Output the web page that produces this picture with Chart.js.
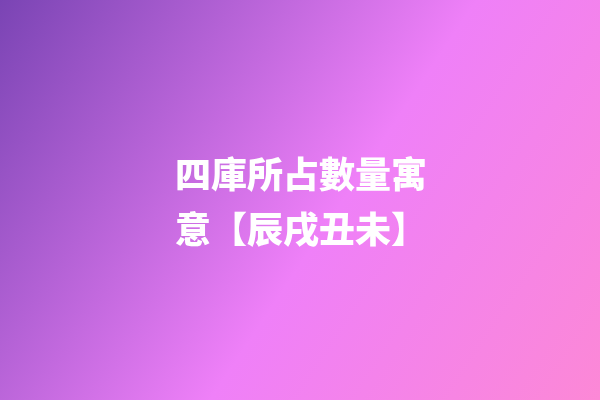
<!DOCTYPE html>
<html>
<head>
<meta charset="utf-8">
<script src="https://cdn.jsdelivr.net/npm/chart.js@4"></script>
<style>
html,body{margin:0;padding:0;width:600px;height:400px;overflow:hidden;}
#wrap{position:relative;width:600px;height:400px;}
</style>
</head>
<body>
<div id="wrap"><canvas id="c" width="600" height="400"></canvas></div>
<script>
// The reference contains no data marks: only a gradient card with a title.
const categories = [];
const seriesValues = [];
const titleLines = ['四庫所占數量寓', '意【辰戌丑未】'];
const gradientStops = [[0, '#7a44b4'], [0.55, '#ef80f8'], [1, '#fc88d6']];

const bgPlugin = {
  id: 'bg',
  beforeDraw(chart) {
    const ctx = chart.ctx;
    const w = chart.width, h = chart.height;
    const g = ctx.createLinearGradient(0, 0, w, h);
    gradientStops.forEach(s => g.addColorStop(s[0], s[1]));
    ctx.save();
    ctx.fillStyle = g;
    ctx.fillRect(0, 0, w, h);
    ctx.restore();
  }
};

new Chart(document.getElementById('c'), {
  type: 'bar',
  data: { labels: categories, datasets: [{ data: seriesValues }] },
  options: {
    responsive: false,
    animation: false,
    layout: { padding: { left: 175, top: 136, right: 0, bottom: 0 } },
    scales: { x: { display: false }, y: { display: false } },
    plugins: {
      legend: { display: false },
      tooltip: { enabled: false },
      title: {
        display: true,
        text: titleLines,
        align: 'start',
        color: '#ffffff',
        padding: { top: 10, bottom: 0 },
        font: { family: '"Noto Sans CJK TC", "Noto Sans CJK SC", sans-serif', size: 36, weight: 900, lineHeight: 1.55 }
      }
    }
  },
  plugins: [bgPlugin]
});
</script>
</body>
</html>
